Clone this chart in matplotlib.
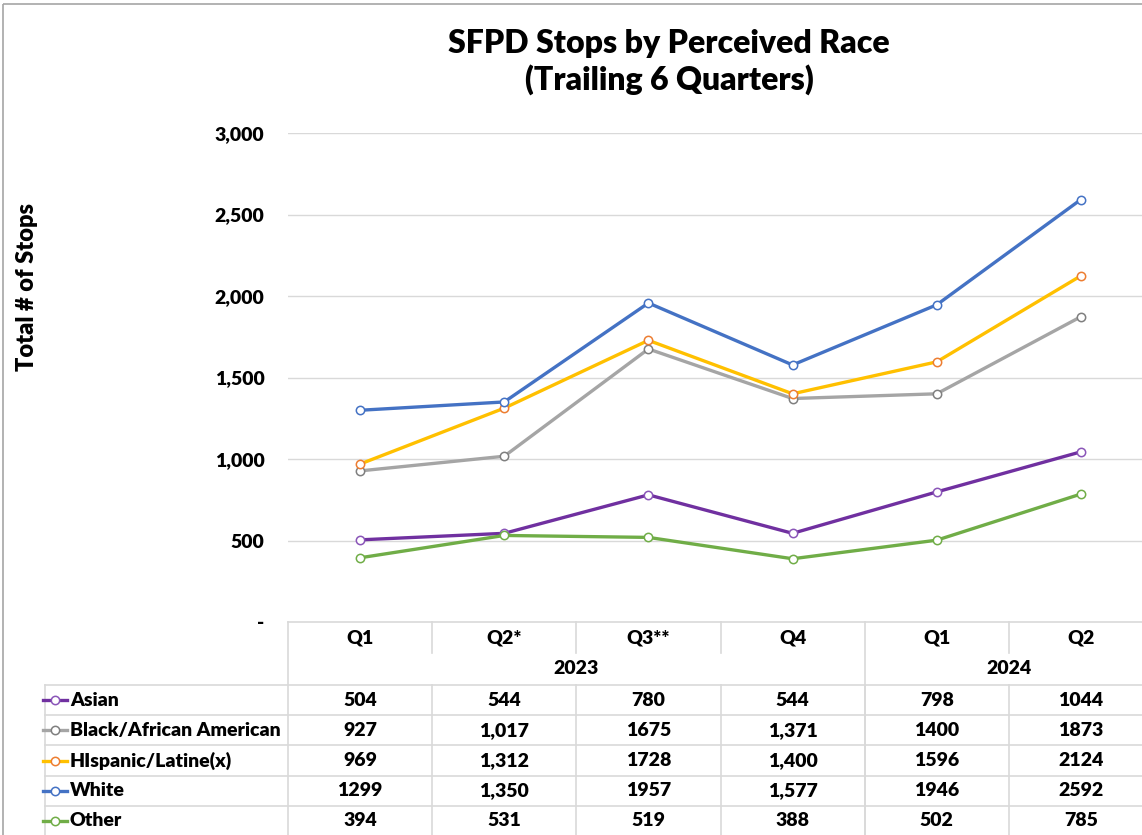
# SFPD stops by perceived race - line chart with Excel-style data table

import matplotlib
matplotlib.use("Agg")
import matplotlib.pyplot as plt
from matplotlib import transforms
from matplotlib.lines import Line2D
from matplotlib.patches import Rectangle

plt.rcParams['font.family'] = ['Lato', 'DejaVu Sans']
BOLD = 'heavy'

# data
quarters = ["Q1", "Q2*", "Q3**", "Q4", "Q1", "Q2"]
years = ["2023", "2024"]
year_span = [4, 2]  # quarters under each year
races = ["Asian", "Black/African American", "HIspanic/Latine(x)", "White", "Other"]

asian = [504, 544, 780, 544, 798, 1044]
black = [927, 1017, 1675, 1371, 1400, 1873]
hispanic = [969, 1312, 1728, 1400, 1596, 2124]
white = [1299, 1350, 1957, 1577, 1946, 2592]
other = [394, 531, 519, 388, 502, 785]

# the source table shows thousands separators only in some columns
col_fmt = ["{:d}", "{:,d}", "{:d}", "{:,d}", "{:d}", "{:d}"]

yticks = [0, 500, 1000, 1500, 2000, 2500, 3000]

line_colors = ["#7030A0", "#A5A5A5", "#FFC000", "#4472C4", "#70AD47"]
edge_colors = ["#8A55B8", "#7F7F7F", "#ED7D31", "#4472C4", "#70AD47"]
grid_c = "#D9D9D9"
fs = 14

W, H = 1142, 835
fig = plt.figure(figsize=(W / 100, H / 100), dpi=100)

# pixel transform (y down, like the screenshot)
pix = transforms.Affine2D().scale(1 / W, -1 / H).translate(0, 1) + fig.transFigure

ax_left, ax_right, ax_top, ax_bot = 288, 1153, 133, 622
ax = fig.add_axes([ax_left / W, 1 - ax_bot / H, (ax_right - ax_left) / W, (ax_bot - ax_top) / H])

series = [asian, black, hispanic, white, other]
x = list(range(len(quarters)))
for vals, lc, ec in zip(series, line_colors, edge_colors):
    ax.plot(x, vals, color=lc, lw=2.4, marker="o", ms=6, mfc="white", mec=ec, mew=1.1,
            solid_capstyle="round", zorder=3)

ax.set_xlim(-0.5, len(quarters) - 0.5)
ax.set_ylim(0, 3000)
ax.set_yticks(yticks)
ax.set_yticklabels(["-"] + ["{:,d}".format(v) for v in yticks[1:]])
ax.set_xticks([])
for y in yticks[1:]:
    ax.axhline(y, color=grid_c, lw=1, zorder=1)
for s in ax.spines.values():
    s.set_visible(False)
ax.tick_params(axis="y", length=0, pad=17, labelsize=fs)
for t in ax.get_yticklabels():
    t.set_fontweight(BOLD)

fig.text(27, 287, "Total # of Stops", transform=pix, ha="center", va="center", rotation=90,
         fontsize=17, fontweight=BOLD)

fig.text(669, 43, "SFPD Stops by Perceived Race", transform=pix, ha="center", va="center",
         fontsize=23, fontweight=BOLD)
fig.text(669, 80, "(Trailing 6 Quarters)", transform=pix, ha="center", va="center",
         fontsize=23, fontweight=BOLD)

# outer chart border
fig.add_artist(Rectangle((3, 4), 1200, 900, transform=pix, fill=False, ec="#A6A6A6", lw=1.2))

# data table
colx = transforms.blended_transform_factory(ax.transData, pix)


def hline(x0, x1, y, tr=pix):
    fig.add_artist(Line2D([x0, x1], [y, y], transform=tr, color=grid_c, lw=1.2))


def vline(xx, y0, y1, tr=pix):
    fig.add_artist(Line2D([xx, xx], [y0, y1], transform=tr, color=grid_c, lw=1.2))


hdr_top, hdr_mid, rows_top = 622, 653, 685
row_h = 30.2
n = len(quarters)

hline(ax_left, 1200, hdr_top)
hline(45, 1200, rows_top)
for i in range(len(races)):
    hline(45, 1200, rows_top + (i + 1) * row_h)
vline(45, rows_top, 900)
vline(ax_left, hdr_top, 900)

# column boundaries
start = 0
for span in year_span:
    for k in range(start + 1, start + span):
        vline(k - 0.5, hdr_top, hdr_mid, colx)
    start += span
    if start < n:
        vline(start - 0.5, hdr_top, 900, colx)
for k in range(1, n):
    vline(k - 0.5, rows_top, 900, colx)

for i, q in enumerate(quarters):
    fig.text(i, 638, q, transform=colx, ha="center", va="center", fontsize=fs, fontweight=BOLD)
start = 0
for yr, span in zip(years, year_span):
    fig.text(start + (span - 1) / 2, 669, yr, transform=colx, ha="center", va="center",
             fontsize=fs, fontweight=BOLD)
    start += span

for r, (name, vals, lc, ec) in enumerate(zip(races, series, line_colors, edge_colors)):
    yc = rows_top + (r + 0.5) * row_h
    fig.add_artist(Line2D([43, 67], [yc, yc], transform=pix, color=lc, lw=2.4))
    fig.add_artist(Line2D([55], [yc], transform=pix, marker="o", ms=6, mfc="white", mec=ec, mew=1.1))
    fig.text(70, yc, name, transform=pix, ha="left", va="center", fontsize=fs, fontweight=BOLD)
    for i, v in enumerate(vals):
        fig.text(i, yc, col_fmt[i].format(v), transform=colx, ha="center", va="center",
                 fontsize=fs, fontweight=BOLD)

plt.savefig("out.png", dpi=100)
